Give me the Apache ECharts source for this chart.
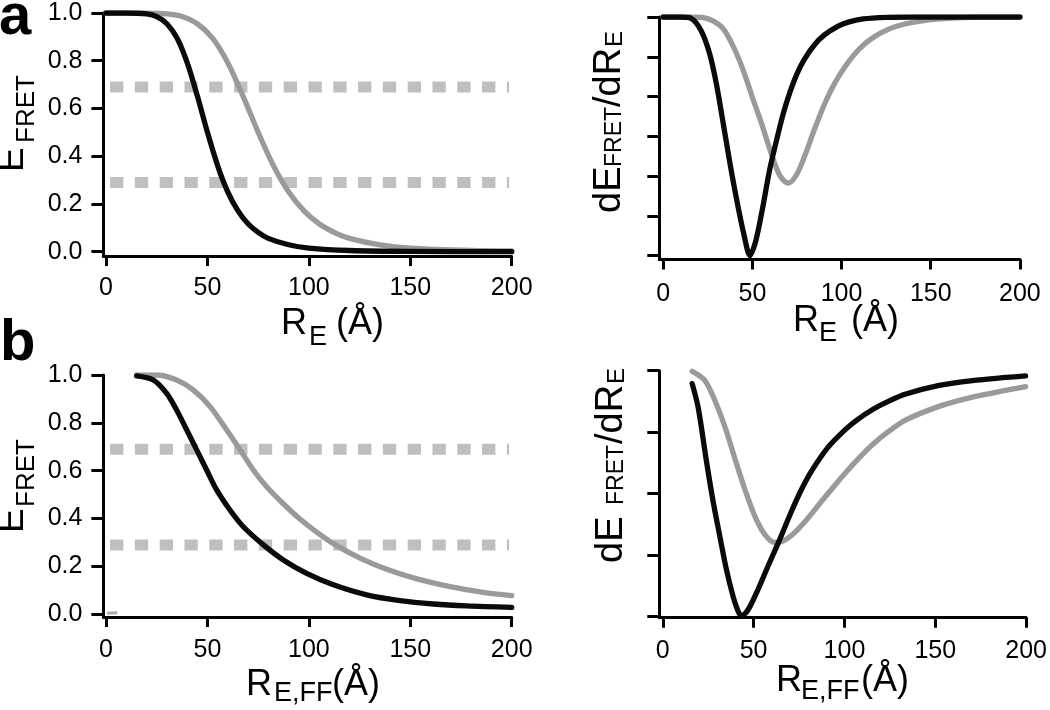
<!DOCTYPE html>
<html>
<head>
<meta charset="utf-8">
<script src="https://cdn.jsdelivr.net/npm/echarts@6/dist/echarts.min.js"></script>
<style>
html,body{margin:0;padding:0;background:#fff;}
#chart{width:1050px;height:710px;}
</style>
</head>
<body>
<div id="chart"></div>
<script>
// ---------- data ----------
// panel a, left: E_FRET vs R_E
const aLeftBlack = [[0,1],[10,1],[20,0.996],[25,0.985],[30,0.955],[35,0.895],[40,0.792],[45,0.653],[50,0.5],[55,0.361],[60,0.251],[65,0.172],[70,0.117],[75,0.081],[80,0.056],[90,0.029],[100,0.015],[120,0.005],[150,0.001],[200,0]];
const aLeftGray = [[0,1],[15,1],[30,0.996],[37.5,0.985],[45,0.955],[52.5,0.895],[60,0.792],[67.5,0.653],[75,0.5],[82.5,0.361],[90,0.251],[97.5,0.172],[105,0.117],[112.5,0.081],[120,0.056],[135,0.029],[150,0.015],[180,0.005],[200,0.003]];
// panel a, right: dE/dR (arbitrary units)
const aRightBlack = [[0,0],[10,0],[15.4,-0.03],[21.2,-0.34],[26,-0.92],[29.8,-1.68],[33.7,-2.69],[37.5,-3.70],[41.3,-4.62],[45.2,-5.46],[48.6,-6.0],[51.9,-5.63],[55.8,-4.79],[59.6,-3.86],[63.5,-3.11],[67.3,-2.43],[71.2,-1.87],[75,-1.43],[78.8,-1.09],[84.6,-0.71],[90.4,-0.45],[98.1,-0.23],[103.8,-0.13],[112,-0.05],[125,-0.01],[140,0],[200,0]];
const aRightGray = [[0,0],[15,0],[23.1,-0.02],[32.7,-0.25],[38.5,-0.67],[44.2,-1.26],[50,-2.02],[55.8,-2.77],[60.6,-3.44],[65.4,-3.99],[70.2,-4.18],[75,-3.95],[79.8,-3.44],[84.6,-2.85],[89.4,-2.30],[94.2,-1.83],[99,-1.45],[104,-1.12],[110,-0.80],[117.5,-0.52],[126.8,-0.30],[136,-0.17],[149,-0.07],[164,-0.02],[180,0],[200,0]];
// panel b, left: E_FRET vs R_E,FF
const bLeftBlack = [[15.1,0.996],[23.3,0.979],[29.9,0.923],[34.8,0.854],[39.8,0.770],[44.7,0.687],[49.6,0.603],[54.6,0.519],[61.1,0.436],[67.7,0.366],[77.6,0.290],[87.4,0.227],[98.9,0.171],[112.1,0.123],[128.5,0.081],[144.9,0.057],[161.4,0.043],[177.8,0.035],[200,0.029]];
const bLeftGray = [[15.1,1.0],[25,1.0],[34.8,0.979],[43.1,0.937],[51.3,0.868],[59.5,0.770],[66.1,0.687],[72.6,0.603],[79.2,0.533],[87.4,0.462],[95.6,0.398],[105.5,0.333],[113.7,0.287],[125.2,0.235],[138.4,0.188],[153.2,0.148],[169.6,0.116],[186,0.092],[200,0.078]];
const bLeftMark = [[0.5,0.004],[5.5,0.006]];
// panel b, right: dE/dR (arbitrary units)
const bRightBlack = [[16.2,-0.21],[19.5,-0.60],[24.1,-1.48],[27.8,-2.14],[31.4,-2.69],[35.1,-3.24],[38.7,-3.67],[40.8,-3.86],[43.0,-3.98],[45.3,-3.95],[47.9,-3.84],[52.4,-3.56],[57.9,-3.18],[64.3,-2.75],[70.8,-2.29],[76.2,-1.94],[81.7,-1.64],[90.8,-1.25],[100,-0.97],[106.4,-0.81],[115.5,-0.63],[124.7,-0.49],[133.8,-0.38],[152.1,-0.24],[170.4,-0.16],[188.7,-0.11],[199.7,-0.085]];
const bRightGray = [[16.2,-0.01],[23.2,-0.16],[29.6,-0.55],[35.1,-0.99],[39.7,-1.43],[45.1,-1.92],[50.6,-2.36],[56.1,-2.66],[61.6,-2.79],[65.3,-2.78],[70.8,-2.68],[78.1,-2.46],[87.2,-2.13],[94.5,-1.87],[100,-1.68],[106.4,-1.47],[115.5,-1.20],[124.7,-0.98],[133.8,-0.80],[152.1,-0.58],[170.4,-0.43],[188.7,-0.32],[199.7,-0.26]];
// threshold levels (dashed bands)
const bandLevels = [0.69, 0.29];
const bandRange = [2, 198.7];
// tick values
const xTicks = [0, 50, 100, 150, 200];
const yTicksE = [0, 0.2, 0.4, 0.6, 0.8, 1.0];
const yTicksA = [0, -1, -2, -3, -4, -5, -6];
const yTicksB = [0, -1, -2, -3, -4];

// ---------- chart ----------
const FONT = '"Liberation Sans", Arial, Helvetica, sans-serif';
const BLACK = '#0a0a0a', GRAY = '#9a9a9a', BAND = '#bfbfbf';

function xAx(gi, min, margin) {
  return {
    type: 'value', gridIndex: gi, min: min, max: 200,
    axisLine: {show: true, onZero: false, lineStyle: {color: '#000', width: 3}},
    axisTick: {show: true, length: 10, lineStyle: {color: '#000', width: 3}, customValues: xTicks},
    axisLabel: {show: true, fontSize: 25, fontFamily: FONT, color: '#000', margin: margin, customValues: xTicks,
      formatter: v => String(v)},
    splitLine: {show: false}
  };
}
function yAx(gi, min, max, ticks, labels) {
  return {
    type: 'value', gridIndex: gi, min: min, max: max,
    axisLine: {show: true, onZero: false, lineStyle: {color: '#000', width: 3}},
    axisTick: {show: true, length: 12, lineStyle: {color: '#000', width: 3}, customValues: ticks},
    axisLabel: {show: labels, fontSize: 25, fontFamily: FONT, color: '#000', margin: 21, customValues: ticks,
      formatter: v => v.toFixed(1)},
    splitLine: {show: false}
  };
}
function curve(data, color, xi, z) {
  return {type: 'line', data: data, xAxisIndex: xi, yAxisIndex: xi, symbol: 'none', smooth: 0.3,
    lineStyle: {color: color, width: 5.3, cap: 'round', join: 'round'}, z: z, silent: true};
}
function band(level, xi) {
  return {type: 'line', data: [[bandRange[0], level], [bandRange[1], level]], xAxisIndex: xi, yAxisIndex: xi,
    symbol: 'none', lineStyle: {color: BAND, width: 11, type: [13.3, 11.5], cap: 'butt'}, z: 1, silent: true};
}
function txt(x, y, s, fs, rot, bold) {
  return {type: 'text', x: x, y: y, rotation: rot ? Math.PI / 2 : 0, silent: true,
    style: {text: s, fontSize: fs, fontFamily: FONT, fontWeight: bold ? 'bold' : 'normal', fill: '#000',
      align: 'left', verticalAlign: 'middle'}};
}

const option = {
  animation: false,
  backgroundColor: '#fff',
  grid: [
    {left: 103.4, top: 13, width: 408.3, height: 243},
    {left: 659.3, top: 17, width: 360.6, height: 242.5},
    {left: 103.4, top: 375, width: 408.3, height: 242},
    {left: 659.3, top: 370.7, width: 368, height: 247}
  ],
  xAxis: [xAx(0, -1.3, 20), xAx(1, -2.2, 22), xAx(2, -1.3, 21), xAx(3, -1.9, 21)],
  yAxis: [
    yAx(0, -0.018, 1.0, yTicksE, true),
    yAx(1, -6.1, 0, yTicksA, false),
    yAx(2, -0.0113, 1.0, yTicksE, true),
    yAx(3, -4.016, 0, yTicksB, false)
  ],
  series: [
    band(bandLevels[0], 0), band(bandLevels[1], 0),
    curve(aLeftGray, GRAY, 0, 2), curve(aLeftBlack, BLACK, 0, 3),
    curve(aRightGray, GRAY, 1, 2), curve(aRightBlack, BLACK, 1, 3),
    band(bandLevels[0], 2), band(bandLevels[1], 2),
    {type: 'line', data: bLeftMark, xAxisIndex: 2, yAxisIndex: 2, symbol: 'none',
      lineStyle: {color: '#aaaaaa', width: 3}, z: 2, silent: true},
    curve(bLeftGray, GRAY, 2, 2), curve(bLeftBlack, BLACK, 2, 3),
    curve(bRightGray, GRAY, 3, 2), curve(bRightBlack, BLACK, 3, 3)
  ],
  graphic: [
    txt(-1, 17.6, 'a', 58, false, true),
    txt(0, 343.6, 'b', 58, false, true),
    // y-axis names
    txt(12.5, 172, 'E', 37, true), txt(27, 143, 'FRET', 26, true),
    txt(12.5, 533, 'E', 37, true), txt(27, 507, 'FRET', 26, true),
    txt(609.8, 213, 'dE', 38, true), txt(615, 167, 'FRET', 23, true),
    txt(609.8, 107, '/dR', 38, true), txt(615, 47, 'E', 24, true),
    txt(611.8, 563, 'dE', 38, true), txt(617, 505, 'FRET', 23, true),
    txt(611.8, 444, '/dR', 38, true), txt(617, 384, 'E', 24, true),
    // x-axis names
    txt(281, 324.5, 'R', 36), txt(309, 337.6, 'E', 27), txt(336, 324.5, '(Å)', 36),
    txt(793, 321.5, 'R', 36), txt(819, 333.6, 'E', 27), txt(851, 321.5, '(Å)', 36),
    txt(246, 685.5, 'R', 36), txt(274, 693.6, 'E,FF', 27), txt(332, 685.5, '(Å)', 36),
    txt(776, 681.5, 'R', 36), txt(801, 691.6, 'E,FF', 27), txt(861, 681.5, '(Å)', 36)
  ]
};
const chart = echarts.init(document.getElementById('chart'), null, {renderer: 'canvas'});
chart.setOption(option);
</script>
</body>
</html>
